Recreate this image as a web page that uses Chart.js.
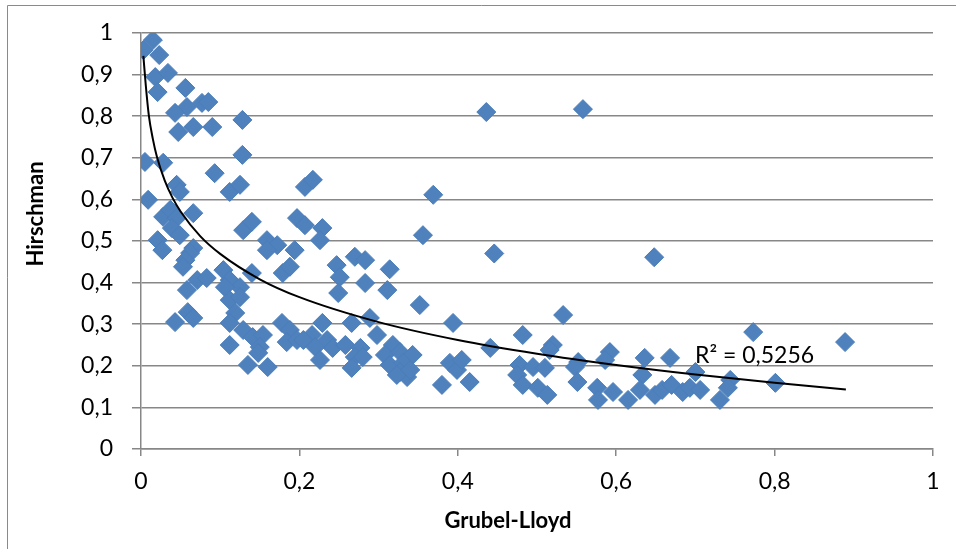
<!DOCTYPE html>
<html>
<head>
<meta charset="utf-8">
<script src="https://cdn.jsdelivr.net/npm/chart.js@4/dist/chart.umd.min.js"></script>
<style>
  html, body { margin: 0; padding: 0; background: #fff; }
  canvas { display: block; }
</style>
</head>
<body>
<canvas id="chart" width="956" height="549"></canvas>
<script>
// Grubel-Lloyd (x) vs Hirschman (y)
const glValues = [
  0.003, 0.015, 0.023, 0.018, 0.034, 0.021, 0.056, 0.058, 0.077, 0.085,
  0.043, 0.047, 0.066, 0.090, 0.128, 0.128, 0.005, 0.028, 0.093, 0.045,
  0.049, 0.112, 0.125, 0.207, 0.217, 0.009, 0.028, 0.037, 0.045, 0.066,
  0.039, 0.049, 0.021, 0.027, 0.066, 0.062, 0.056, 0.053, 0.129, 0.140,
  0.159, 0.172, 0.159, 0.197, 0.194, 0.140, 0.071, 0.058, 0.083, 0.104,
  0.112, 0.125, 0.179, 0.188, 0.106, 0.112, 0.125, 0.059, 0.043, 0.119,
  0.112, 0.129, 0.141, 0.154, 0.112, 0.150, 0.148, 0.178, 0.188, 0.184,
  0.135, 0.160, 0.197, 0.066, 0.369, 0.207, 0.229, 0.226, 0.356, 0.247,
  0.270, 0.283, 0.251, 0.314, 0.283, 0.311, 0.249, 0.352, 0.289, 0.266,
  0.229, 0.394, 0.298, 0.216, 0.205, 0.235, 0.242, 0.220, 0.258, 0.277,
  0.318, 0.226, 0.270, 0.280, 0.266, 0.308, 0.327, 0.343, 0.314, 0.331,
  0.327, 0.336, 0.323, 0.340, 0.390, 0.399, 0.380, 0.533, 0.482, 0.441,
  0.520, 0.516, 0.405, 0.592, 0.586, 0.478, 0.495, 0.510, 0.552, 0.548,
  0.475, 0.482, 0.501, 0.513, 0.551, 0.415, 0.576, 0.596, 0.577, 0.615,
  0.773, 0.636, 0.668, 0.633, 0.700, 0.744, 0.801, 0.630, 0.649, 0.658,
  0.670, 0.684, 0.693, 0.706, 0.731, 0.741, 0.436, 0.558, 0.446, 0.648,
  0.889
];
const hirschValues = [
  0.959, 0.983, 0.947, 0.894, 0.904, 0.858, 0.868, 0.822, 0.832, 0.834,
  0.808, 0.762, 0.774, 0.774, 0.791, 0.707, 0.690, 0.688, 0.663, 0.635,
  0.618, 0.618, 0.635, 0.630, 0.647, 0.599, 0.558, 0.575, 0.555, 0.567,
  0.531, 0.514, 0.502, 0.478, 0.483, 0.471, 0.454, 0.438, 0.526, 0.546,
  0.502, 0.490, 0.478, 0.555, 0.478, 0.423, 0.406, 0.382, 0.411, 0.430,
  0.406, 0.389, 0.423, 0.438, 0.389, 0.358, 0.365, 0.329, 0.305, 0.327,
  0.303, 0.286, 0.269, 0.274, 0.250, 0.245, 0.231, 0.303, 0.286, 0.257,
  0.202, 0.197, 0.262, 0.315, 0.611, 0.538, 0.531, 0.502, 0.514, 0.442,
  0.462, 0.454, 0.413, 0.432, 0.399, 0.382, 0.375, 0.346, 0.315, 0.303,
  0.303, 0.303, 0.274, 0.274, 0.262, 0.262, 0.243, 0.245, 0.250, 0.243,
  0.250, 0.214, 0.221, 0.221, 0.195, 0.226, 0.233, 0.226, 0.202, 0.207,
  0.185, 0.173, 0.178, 0.190, 0.207, 0.190, 0.154, 0.322, 0.274, 0.243,
  0.250, 0.238, 0.214, 0.233, 0.214, 0.202, 0.197, 0.195, 0.209, 0.197,
  0.178, 0.154, 0.147, 0.130, 0.161, 0.161, 0.147, 0.137, 0.118, 0.118,
  0.281, 0.219, 0.219, 0.178, 0.185, 0.166, 0.159, 0.142, 0.130, 0.142,
  0.154, 0.137, 0.147, 0.142, 0.118, 0.147, 0.810, 0.817, 0.470, 0.461,
  0.257
];

// trendline
const trendX = [0.003, 0.006, 0.01, 0.015, 0.02, 0.03, 0.04, 0.05, 0.075, 0.1, 0.15, 0.2, 0.3, 0.4, 0.5, 0.6, 0.7, 0.8, 0.89];
const trendY = [0.945, 0.875, 0.80, 0.745, 0.703, 0.645, 0.603, 0.571, 0.511, 0.469, 0.408, 0.365, 0.305, 0.262, 0.229, 0.202, 0.179, 0.159, 0.143];
const r2Label = "R² = 0,5256";

const xTickLabels = ["0", "0,2", "0,4", "0,6", "0,8", "1"];
const yTickLabels = ["0", "0,1", "0,2", "0,3", "0,4", "0,5", "0,6", "0,7", "0,8", "0,9", "1"];

const gridColor = "#878787";
const fontFam = "Lato, 'Open Sans', sans-serif";

const points = glValues.map((x, i) => ({ x: x, y: hirschValues[i] }));
const trend = trendX.map((x, i) => ({ x: x, y: trendY[i] }));

// frame, axis titles and R² text
const extras = {
  id: "extras",
  beforeDraw(chart) {
    const c = chart.ctx;
    c.save();
    c.fillStyle = "#fff";
    c.fillRect(0, 0, chart.width, chart.height);
    c.strokeStyle = "#8a8a8a";
    c.lineWidth = 1;
    c.beginPath();
    c.moveTo(7.5, chart.height);
    c.lineTo(7.5, 5.5);
    c.lineTo(chart.width, 5.5);
    c.stroke();
    c.restore();
  },
  afterDraw(chart) {
    const c = chart.ctx;
    const xs = chart.scales.x, ys = chart.scales.y;
    c.save();
    c.fillStyle = "#000";
    c.font = "bold 22px " + fontFam;
    c.textAlign = "center";
    c.textBaseline = "alphabetic";
    c.fillText("Grubel-Lloyd", 508, 528);
    c.translate(43, 214);
    c.rotate(-Math.PI / 2);
    c.fillText("Hirschman", 0, 0);
    c.restore();

    c.save();
    c.fillStyle = "#000";
    c.font = "23px " + fontFam;
    c.textAlign = "left";
    c.textBaseline = "alphabetic";
    c.fillText(r2Label, xs.getPixelForValue(0.6995), ys.getPixelForValue(0.207));
    c.restore();
  }
};

new Chart(document.getElementById("chart"), {
  type: "scatter",
  data: {
    datasets: [
      {
        type: "line",
        label: "trend",
        data: trend,
        borderColor: "#000",
        borderWidth: 2,
        pointRadius: 0,
        fill: false,
        cubicInterpolationMode: "monotone",
        order: 0
      },
      {
        label: "Hirschman",
        data: points,
        pointStyle: "rectRot",
        pointRadius: 9.5,
        pointHoverRadius: 9.5,
        backgroundColor: "#4F81BD",
        borderColor: "#4A7EBB",
        borderWidth: 1,
        order: 1
      }
    ]
  },
  plugins: [extras],
  options: {
    responsive: false,
    animation: false,
    events: [],
    layout: { padding: { top: 33, right: 23, left: 0, bottom: 0 } },
    plugins: { legend: { display: false }, tooltip: { enabled: false } },
    scales: {
      x: {
        type: "linear",
        min: 0,
        max: 1,
        afterFit(s) { s.height = 100; },
        ticks: {
          stepSize: 0.2,
          padding: 12,
          color: "#000",
          font: { family: fontFam, size: 23 },
          callback: (v, i) => xTickLabels[i]
        },
        grid: { drawOnChartArea: false, drawTicks: true, tickLength: 7, color: gridColor, lineWidth: 1.5 },
        border: { color: gridColor, width: 1.5 }
      },
      y: {
        type: "linear",
        min: 0,
        max: 1,
        afterFit(s) { s.width = 141; },
        ticks: {
          stepSize: 0.1,
          padding: 19,
          color: "#000",
          font: { family: fontFam, size: 23 },
          callback: (v, i) => yTickLabels[i]
        },
        grid: { drawTicks: true, tickLength: 9, color: gridColor, lineWidth: 1.5 },
        border: { color: gridColor, width: 1.5 }
      }
    }
  }
});
</script>
</body>
</html>
